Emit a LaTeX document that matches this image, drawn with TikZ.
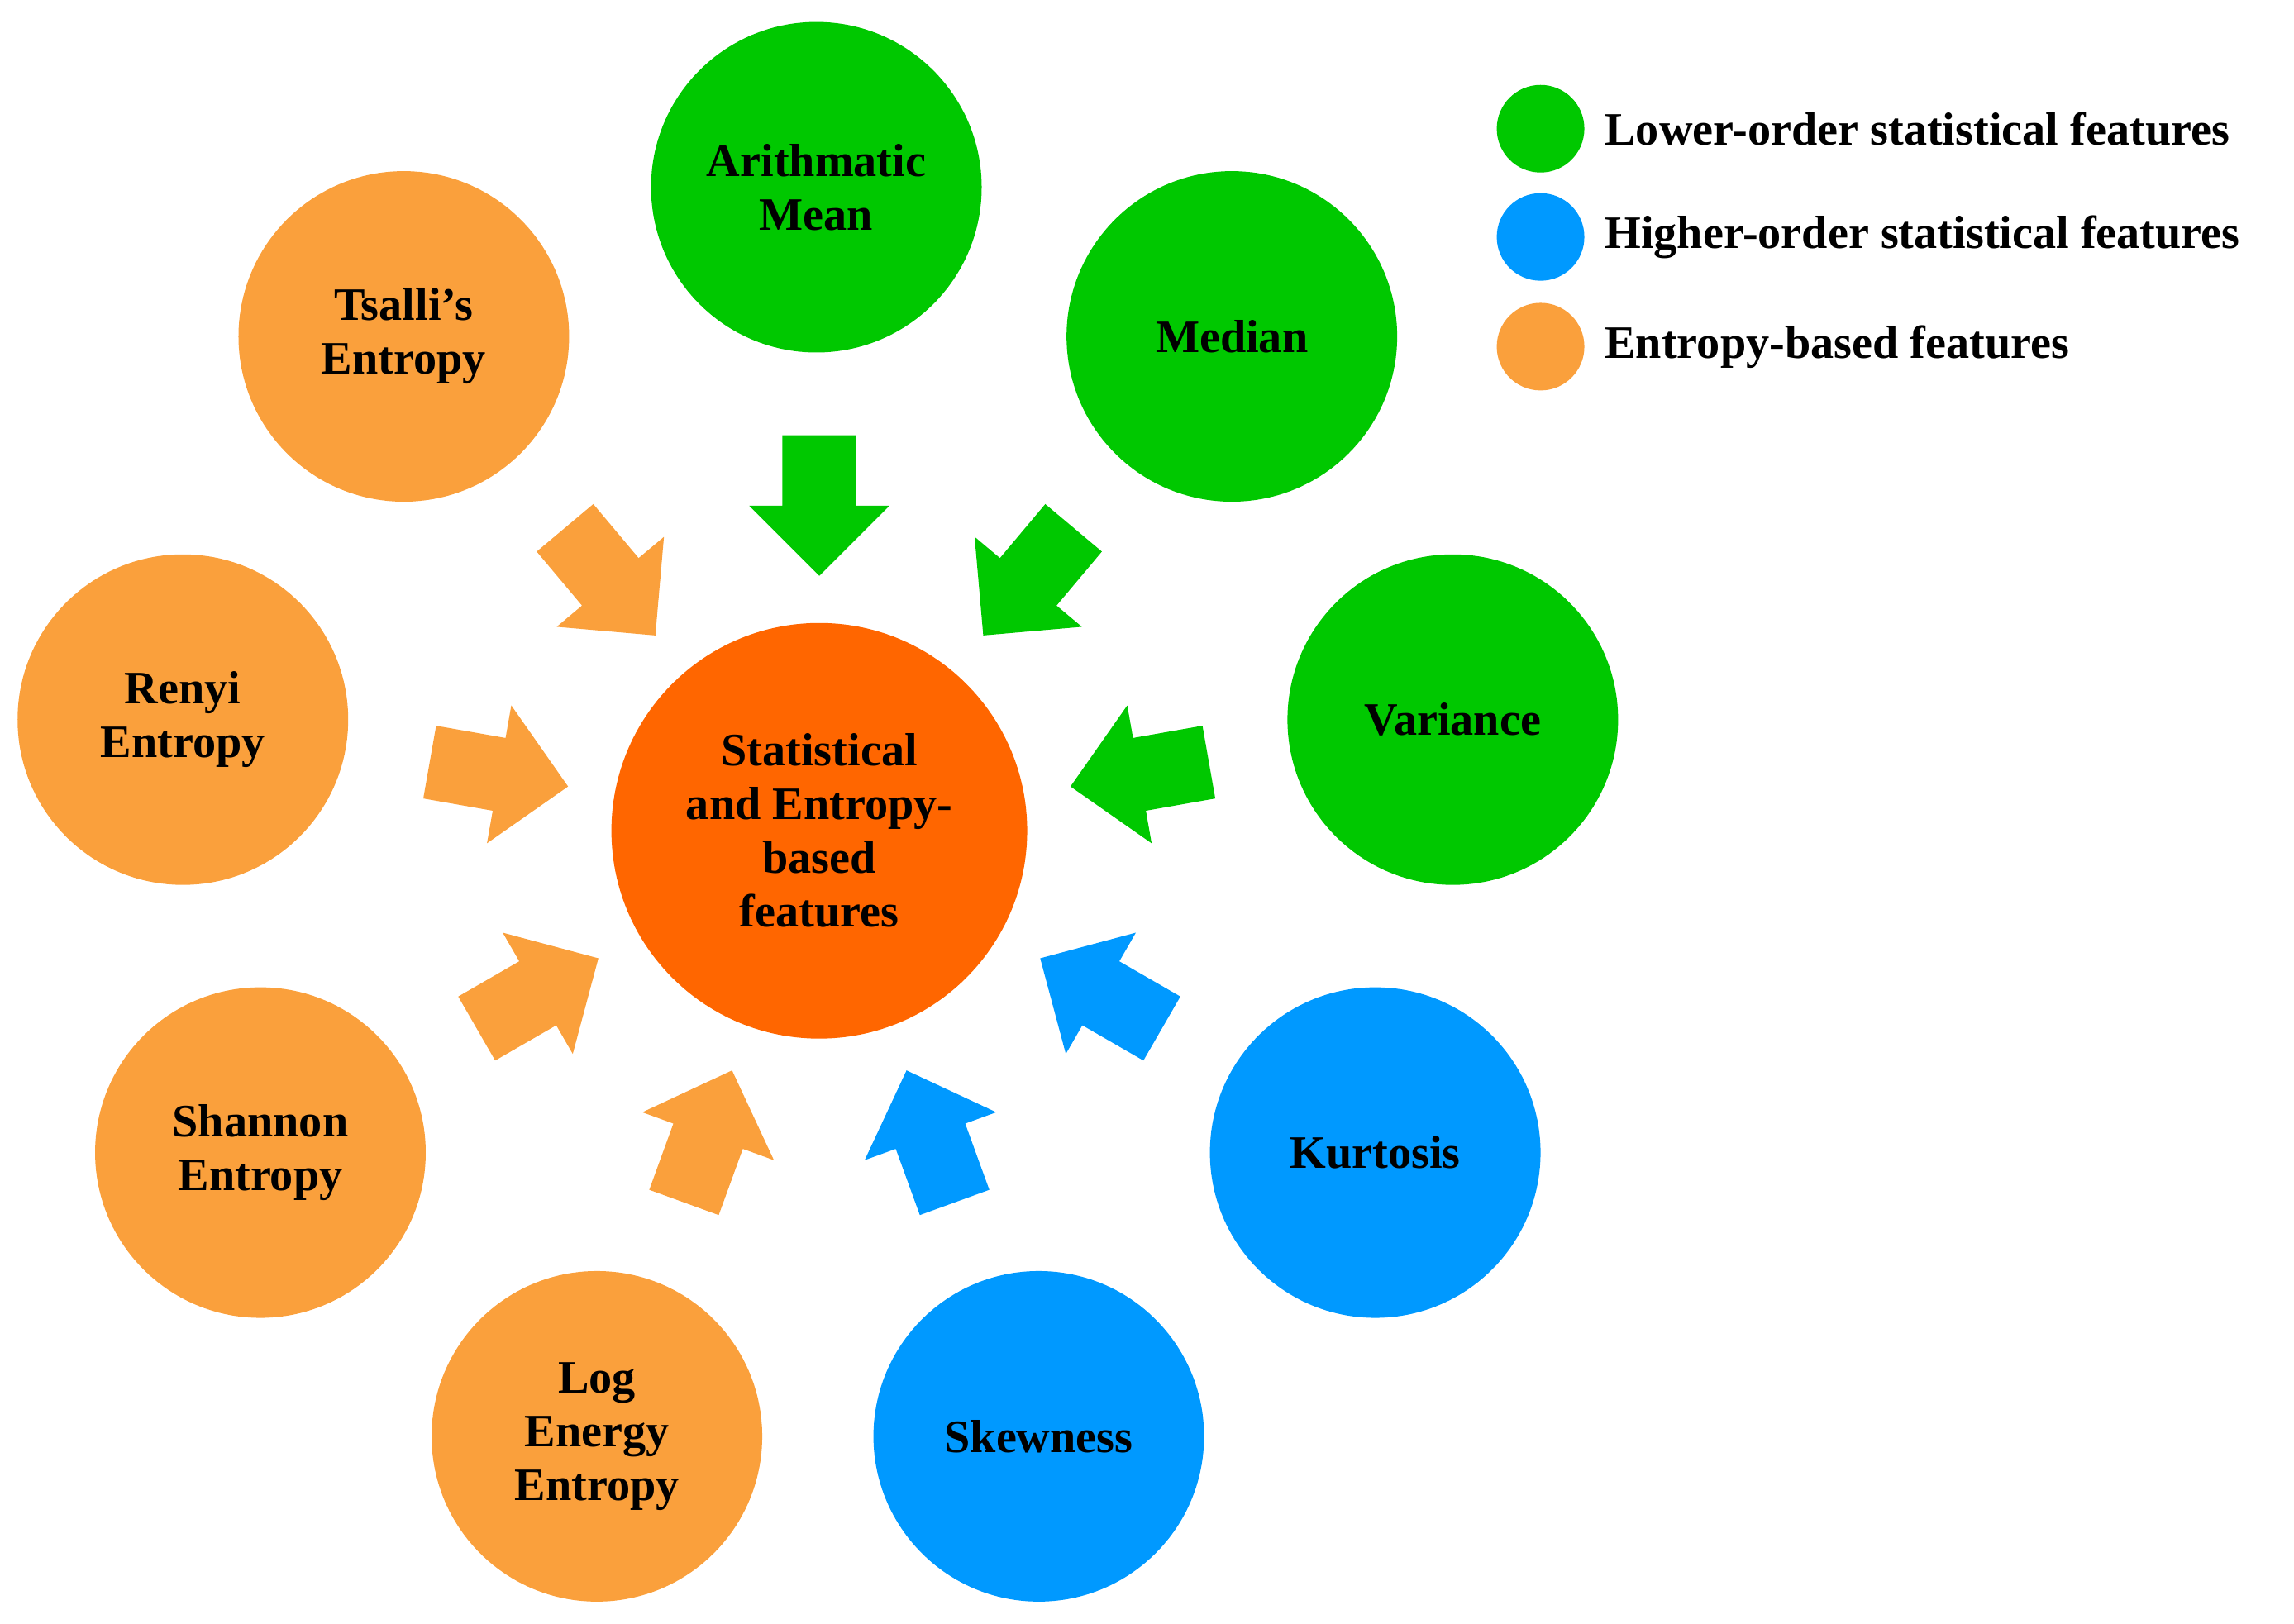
\documentclass[tikz,border=0pt]{standalone}
\usepackage{fontspec}
\setmainfont{Liberation Serif}
\usetikzlibrary{shapes.arrows,calc}

\definecolor{lowgreen}{RGB}{0,200,0}
\definecolor{highblue}{RGB}{0,153,255}
\definecolor{entorange}{RGB}{250,160,60}
\definecolor{hubred}{RGB}{255,102,0}

\tikzset{
  feat/.style={circle,minimum size=4cm,inner sep=0pt,align=center,
    font=\fontsize{16}{18.5}\selectfont\bfseries},
  hub/.style={feat,minimum size=5.03cm,fill=hubred},
  key/.style={circle,minimum size=1.06cm,inner sep=0pt},
  keytext/.style={anchor=west,font=\fontsize{16}{18.5}\selectfont\bfseries},
  arr/.style={single arrow,minimum height=1.7cm,inner sep=0.44cm,
    single arrow head extend=0.4cm,single arrow head indent=0pt}
}

\begin{document}
\begin{tikzpicture}[x=0.0177cm,y=0.0177cm]
  \useasboundingbox (0,0) rectangle (1568,1110);

  % hub
  \node[hub] (ctr) at (560,542) {Statistical\\and Entropy-\\based\\features};

  % lower-order
  \node[feat,fill=lowgreen] (mean) at (558,982) {Arithmatic\\Mean};
  \node[feat,fill=lowgreen] (median) at (842,880) {Median};
  \node[feat,fill=lowgreen] (var) at (993,618) {Variance};
  % higher-order
  \node[feat,fill=highblue] (kurt) at (940,322) {Kurtosis};
  \node[feat,fill=highblue] (skew) at (710,128) {Skewness};
  % entropy
  \node[feat,fill=entorange] (logen) at (408,128) {Log\\Energy\\Entropy};
  \node[feat,fill=entorange] (shan) at (178,322) {Shannon\\Entropy};
  \node[feat,fill=entorange] (renyi) at (125,618) {Renyi\\Entropy};
  \node[feat,fill=entorange] (tsal) at (276,880) {Tsalli's\\Entropy};

  % block arrows
  \foreach \ang/\col/\nm in {90/lowgreen/amean,50/lowgreen/amedian,10/lowgreen/avar,
      -30/highblue/akurt,-70/highblue/askew,-110/entorange/alog,
      -150/entorange/ashan,170/entorange/arenyi,130/entorange/atsal}
    \node[arr,fill=\col,rotate=\ang+180] (\nm) at ($(ctr)+(\ang:235)$) {};

  % legend
  \node[key,fill=lowgreen] (klow) at (1053,1022) {};
  \node[key,fill=highblue] (khigh) at (1053,948) {};
  \node[key,fill=entorange] (kent) at (1053,873) {};
  \node[keytext] at (1090,1022) {Lower-order statistical features};
  \node[keytext] at (1090,948) {Higher-order statistical features};
  \node[keytext] at (1090,873) {Entropy-based features};
\end{tikzpicture}
\end{document}
